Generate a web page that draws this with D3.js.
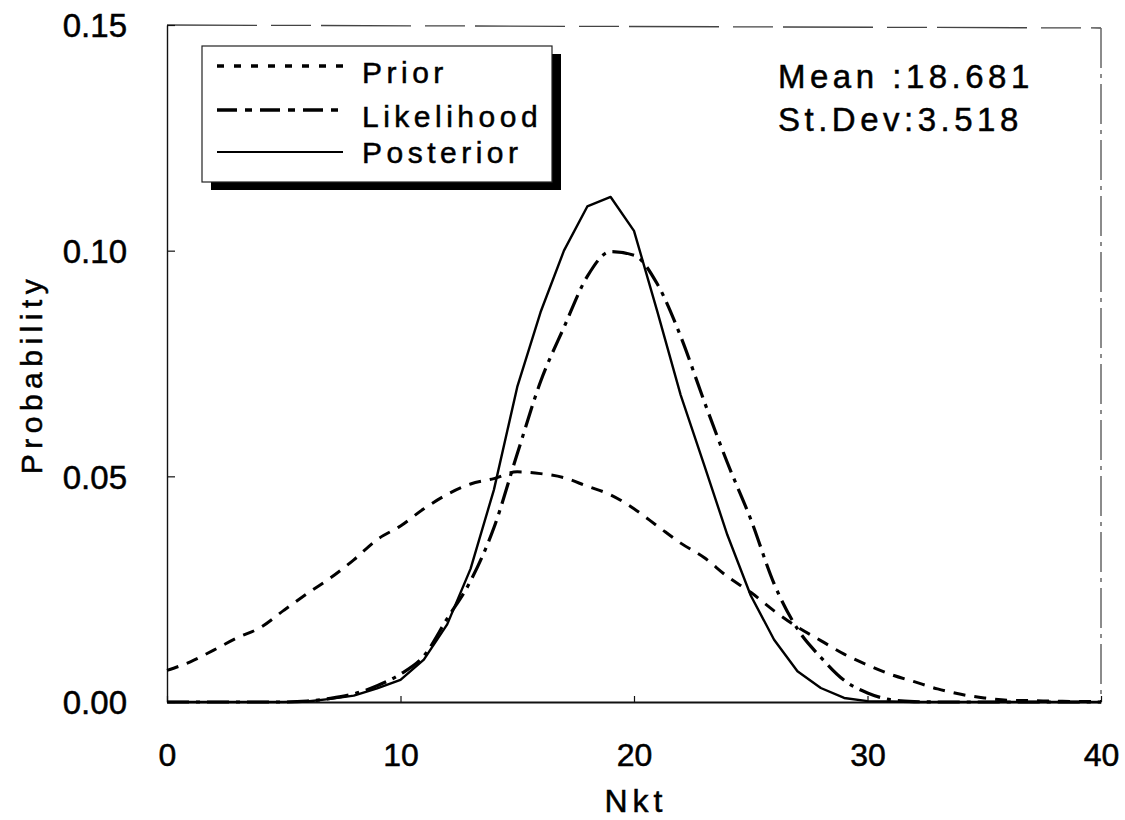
<!DOCTYPE html>
<html>
<head>
<meta charset="utf-8">
<script src="https://cdn.jsdelivr.net/npm/d3@7"></script>
<style>
  html, body { margin: 0; padding: 0; background: #fff; }
  svg { display: block; }
  text { font-family: "Liberation Sans", Arial, Helvetica, sans-serif; fill: #000; stroke: #000; stroke-width: 0.5px; }
</style>
</head>
<body>
<svg id="chart" width="1125" height="820"></svg>
<script>
// ---- data ----
const nkt = d3.range(0, 41); // x positions 0..40
const prior = [0.0070,0.0089,0.0115,0.0142,0.0165,0.0203,0.0240,0.0275,0.0315,0.0360,
               0.0390,0.0428,0.0460,0.0483,0.0495,0.0510,0.0506,0.0497,0.0478,0.0459,
               0.0428,0.0390,0.0352,0.0320,0.0278,0.0243,0.0202,0.0166,0.0136,0.0106,
               0.0082,0.0061,0.0045,0.0029,0.0017,0.0009,0.0004,0.0003,0.0002,0.0001,0.0001];
const likelihood = [0,0,0,0,0,0,0.0002,0.0008,0.0018,0.0036,
                    0.0062,0.0102,0.0185,0.0268,0.0386,0.0550,0.0710,0.0830,0.0943,0.0998,
                    0.0990,0.0926,0.0810,0.0667,0.0530,0.0405,0.0262,0.0162,0.0099,0.0048,
                    0.0020,0.0005,0.0001,0,0,0,0,0,0,0,0];
const posterior = [0,0,0,0,0,0,0.0001,0.0007,0.0014,0.0030,
                   0.0049,0.0094,0.0172,0.0295,0.0470,0.0698,0.0864,0.1000,0.1098,0.1119,
                   0.1044,0.0865,0.0680,0.0526,0.0370,0.0236,0.0138,0.0068,0.0031,0.0009,
                   0.0002,0.0001,0,0,0,0,0,0,0,0,0];
const xTicks = [0, 10, 20, 30, 40];
const yTicks = [0, 0.05, 0.10, 0.15];
const seriesNames = ["Prior", "Likelihood", "Posterior"];
const statLines = ["Mean :18.681", "St.Dev:3.518"];

// ---- layout ----
const svg = d3.select("#chart");
const x = d3.scaleLinear().domain([0, 40]).range([167, 1101]);
const y = d3.scaleLinear().domain([0, 0.15]).range([702, 25]);

// frame: top and right (scanned grey broken lines)
svg.append("line").attr("x1", x(0)).attr("x2", x(40)).attr("y1", y(0.15)).attr("y2", y(0.15) + 3)
  .attr("stroke", "#444").attr("stroke-width", 1.3).attr("stroke-dasharray", "90,14,40,10");
svg.append("line").attr("x1", x(40)).attr("x2", x(40)).attr("y1", y(0.15) + 3).attr("y2", y(0))
  .attr("stroke", "#666").attr("stroke-width", 1.5).attr("stroke-dasharray", "40,6,4,6");

// axes
const yAxis = d3.axisLeft(y).tickValues(yTicks).tickFormat(d3.format(".2f"))
  .tickSizeInner(-8).tickSizeOuter(0).tickPadding(40);
const gy = svg.append("g").attr("transform", `translate(${x(0)},0)`).call(yAxis);
gy.selectAll("text").style("font-size", "33px").attr("dy", "0.36em");
gy.select(".domain").attr("stroke", "#111").attr("stroke-width", 1.4);
gy.selectAll(".tick line").attr("stroke", "#111").attr("stroke-width", 1.2);

const xAxis = d3.axisBottom(x).tickValues(xTicks).tickFormat(d3.format("d"))
  .tickSizeInner(-6).tickSizeOuter(0).tickPadding(41);
const gx = svg.append("g").attr("transform", `translate(0,${y(0)})`).call(xAxis);
gx.selectAll("text").style("font-size", "32px");
gx.select(".domain").attr("stroke", "#111").attr("stroke-width", 1.8);
gx.selectAll(".tick line").attr("stroke", "#111").attr("stroke-width", 1.2);

// axis titles
svg.append("text").attr("x", x(20) + 2).attr("y", 812).attr("text-anchor", "middle")
  .style("font-size", "32px").style("letter-spacing", "5px").text("Nkt");
svg.append("text").attr("transform", "translate(42,374) rotate(-90)").attr("text-anchor", "middle")
  .style("font-size", "30px").style("letter-spacing", "5.5px").text("Probability");

// curves
const styles = {
  Prior:      { data: prior,      dash: "12,9",        width: 3.0, curve: d3.curveMonotoneX, legendDash: "7,10" },
  Likelihood: { data: likelihood, dash: "22,7,4,7",    width: 3.2, curve: d3.curveMonotoneX, legendDash: "20,8,7,8" },
  Posterior:  { data: posterior,  dash: null,          width: 2.4, curve: d3.curveLinear,    legendDash: null }
};
seriesNames.forEach(name => {
  const s = styles[name];
  const line = d3.line().x((d, i) => x(nkt[i])).y(d => y(d)).curve(s.curve);
  svg.append("path").datum(s.data).attr("d", line)
    .attr("fill", "none").attr("stroke", "#000").attr("stroke-width", s.width)
    .attr("stroke-linejoin", "round")
    .attr("stroke-dasharray", s.dash);
});

// legend
const lg = svg.append("g");
lg.append("rect").attr("x", 211).attr("y", 54).attr("width", 350).attr("height", 136).attr("fill", "#000");
lg.append("rect").attr("x", 202).attr("y", 46).attr("width", 350).attr("height", 136)
  .attr("fill", "#fff").attr("stroke", "#222").attr("stroke-width", 1.2);
const legendY = [66, 110, 152];
const legendTextY = [83, 127, 163];
seriesNames.forEach((name, i) => {
  const s = styles[name];
  lg.append("line").attr("x1", 217).attr("x2", 343).attr("y1", legendY[i]).attr("y2", legendY[i])
    .attr("stroke", "#000").attr("stroke-width", name === "Posterior" ? 2.2 : 3.5)
    .attr("stroke-dasharray", s.legendDash);
  lg.append("text").attr("x", 362).attr("y", legendTextY[i])
    .style("font-size", "30px").style("letter-spacing", "4.5px").text(name);
});

// statistics text
svg.selectAll("text.stat").data(statLines).enter().append("text").attr("class", "stat")
  .attr("x", 778).attr("y", (d, i) => 88 + i * 43)
  .style("font-size", "33px").style("letter-spacing", "4.5px").text(d => d);
</script>
</body>
</html>
